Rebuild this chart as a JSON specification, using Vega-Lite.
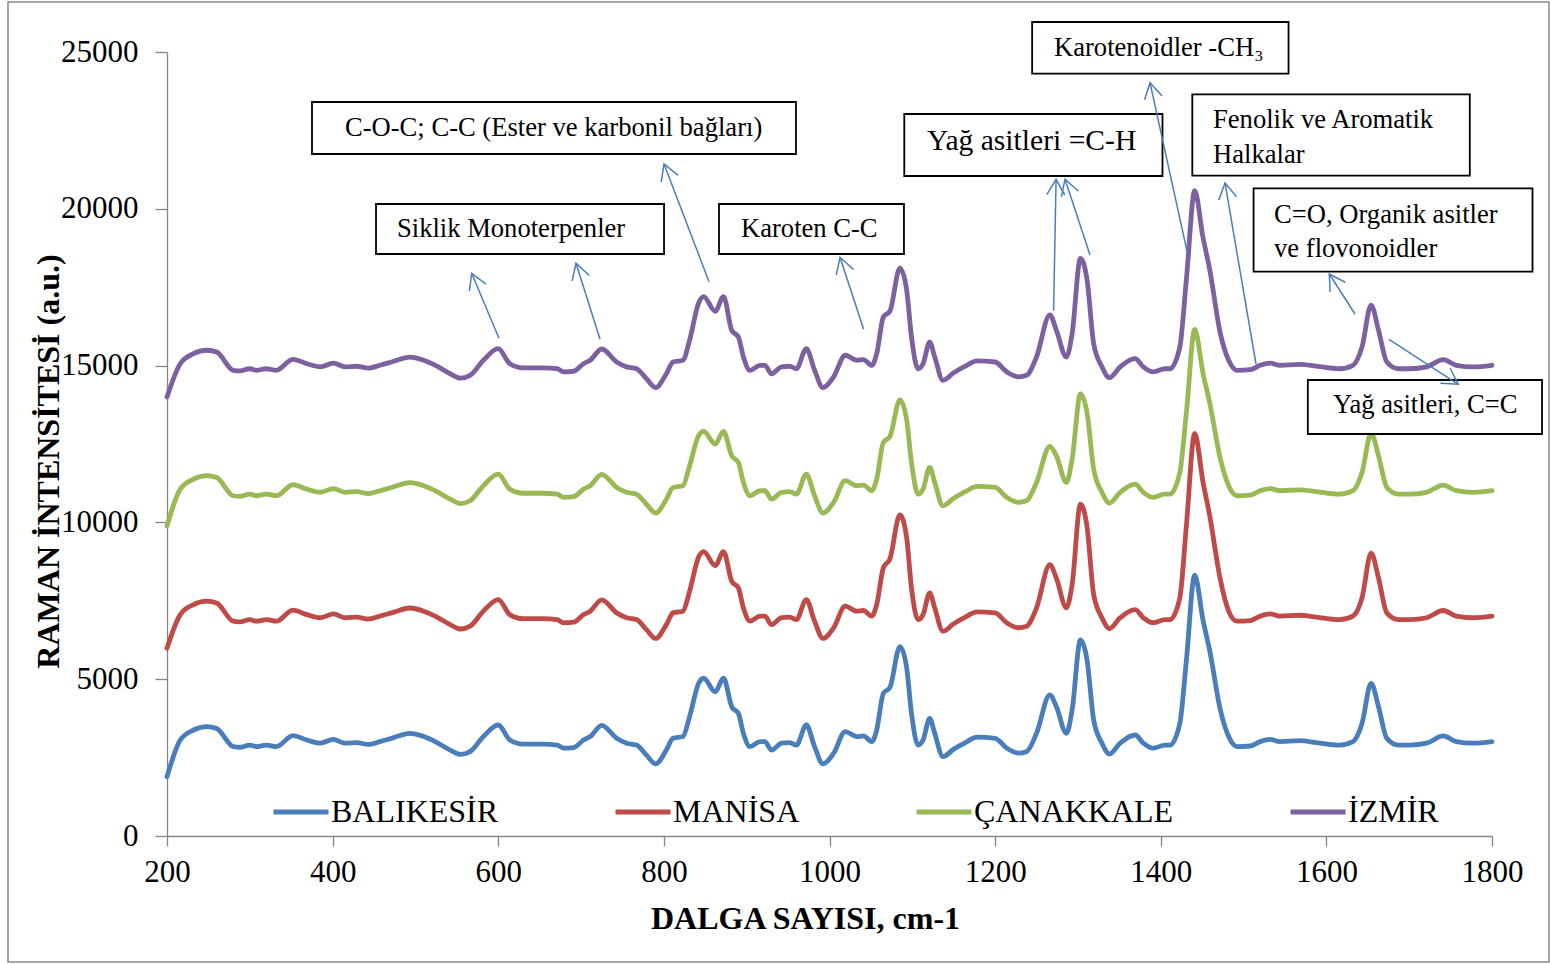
{
  "$schema": "https://vega.github.io/schema/vega-lite/v6.json",
  "width": 1325,
  "height": 784,
  "autosize": {"type": "none"},
  "padding": {"left": 167, "top": 52, "right": 58, "bottom": 128},
  "background": "white",
  "config": {
    "view": {"stroke": null},
    "axis": {
      "grid": false,
      "domainColor": "#868686",
      "domainWidth": 1.3,
      "tickColor": "#868686",
      "tickWidth": 1.3,
      "labelFont": "Liberation Serif",
      "labelFontSize": 31,
      "labelColor": "black",
      "titleFont": "Liberation Serif",
      "titleFontSize": 32,
      "titleFontWeight": "bold",
      "titleColor": "black",
      "labelOverlap": false,
      "labelFlush": false
    },
    "legend": {
      "orient": "none",
      "legendX": 104,
      "legendY": 730,
      "direction": "horizontal",
      "padding": 0,
      "symbolType": "stroke",
      "symbolSize": 3025,
      "symbolStrokeWidth": 5,
      "labelFont": "Liberation Serif",
      "labelFontSize": 32,
      "labelColor": "black",
      "labelLimit": 400,
      "labelOffset": 0,
      "columnPadding": 106
    }
  },
  "datasets": {
    "spectra": [
      {"x":200,"BALIKESİR":1890,"MANİSA":5990,"ÇANAKKALE":9890,"İZMİR":14000},
      {"x":216,"BALIKESİR":3060,"MANİSA":7060,"ÇANAKKALE":11060,"İZMİR":15060},
      {"x":232,"BALIKESİR":3380,"MANİSA":7380,"ÇANAKKALE":11380,"İZMİR":15380},
      {"x":248,"BALIKESİR":3490,"MANİSA":7490,"ÇANAKKALE":11490,"İZMİR":15490},
      {"x":260,"BALIKESİR":3430,"MANİSA":7430,"ÇANAKKALE":11430,"İZMİR":15430},
      {"x":280,"BALIKESİR":2850,"MANİSA":6850,"ÇANAKKALE":10850,"İZMİR":14850},
      {"x":288,"BALIKESİR":2830,"MANİSA":6830,"ÇANAKKALE":10830,"İZMİR":14830},
      {"x":300,"BALIKESİR":2900,"MANİSA":6900,"ÇANAKKALE":10900,"İZMİR":14900},
      {"x":308,"BALIKESİR":2850,"MANİSA":6850,"ÇANAKKALE":10850,"İZMİR":14850},
      {"x":320,"BALIKESİR":2900,"MANİSA":6900,"ÇANAKKALE":10900,"İZMİR":14900},
      {"x":332,"BALIKESİR":2850,"MANİSA":6850,"ÇANAKKALE":10850,"İZMİR":14850},
      {"x":352,"BALIKESİR":3200,"MANİSA":7200,"ÇANAKKALE":11200,"İZMİR":15200},
      {"x":369,"BALIKESİR":3060,"MANİSA":7060,"ÇANAKKALE":11060,"İZMİR":15060},
      {"x":385,"BALIKESİR":2960,"MANİSA":6960,"ÇANAKKALE":10960,"İZMİR":14960},
      {"x":401,"BALIKESİR":3080,"MANİSA":7080,"ÇANAKKALE":11080,"İZMİR":15080},
      {"x":415,"BALIKESİR":2960,"MANİSA":6960,"ÇANAKKALE":10960,"İZMİR":14960},
      {"x":429,"BALIKESİR":2980,"MANİSA":6980,"ÇANAKKALE":10980,"İZMİR":14980},
      {"x":443,"BALIKESİR":2920,"MANİSA":6920,"ÇANAKKALE":10920,"İZMİR":14920},
      {"x":457,"BALIKESİR":3010,"MANİSA":7010,"ÇANAKKALE":11010,"İZMİR":15010},
      {"x":473,"BALIKESİR":3130,"MANİSA":7130,"ÇANAKKALE":11130,"İZMİR":15130},
      {"x":493,"BALIKESİR":3270,"MANİSA":7270,"ÇANAKKALE":11270,"İZMİR":15270},
      {"x":510,"BALIKESİR":3170,"MANİSA":7170,"ÇANAKKALE":11170,"İZMİR":15170},
      {"x":526,"BALIKESİR":2980,"MANİSA":6980,"ÇANAKKALE":10980,"İZMİR":14980},
      {"x":542,"BALIKESİR":2740,"MANİSA":6740,"ÇANAKKALE":10740,"İZMİR":14740},
      {"x":554,"BALIKESİR":2600,"MANİSA":6600,"ÇANAKKALE":10600,"İZMİR":14600},
      {"x":566,"BALIKESİR":2690,"MANİSA":6690,"ÇANAKKALE":10690,"İZMİR":14690},
      {"x":582,"BALIKESİR":3170,"MANİSA":7170,"ÇANAKKALE":11170,"İZMİR":15170},
      {"x":600,"BALIKESİR":3540,"MANİSA":7540,"ÇANAKKALE":11540,"İZMİR":15540},
      {"x":614,"BALIKESİR":3060,"MANİSA":7060,"ÇANAKKALE":11060,"İZMİR":15060},
      {"x":630,"BALIKESİR":2930,"MANİSA":6930,"ÇANAKKALE":10930,"İZMİR":14930},
      {"x":654,"BALIKESİR":2930,"MANİSA":6930,"ÇANAKKALE":10930,"İZMİR":14930},
      {"x":671,"BALIKESİR":2900,"MANİSA":6900,"ÇANAKKALE":10900,"İZMİR":14900},
      {"x":679,"BALIKESİR":2800,"MANİSA":6800,"ÇANAKKALE":10800,"İZMİR":14800},
      {"x":691,"BALIKESİR":2820,"MANİSA":6820,"ÇANAKKALE":10820,"İZMİR":14820},
      {"x":703,"BALIKESİR":3060,"MANİSA":7060,"ÇANAKKALE":11060,"İZMİR":15060},
      {"x":711,"BALIKESİR":3170,"MANİSA":7170,"ÇANAKKALE":11170,"İZMİR":15170},
      {"x":725,"BALIKESİR":3530,"MANİSA":7530,"ÇANAKKALE":11530,"İZMİR":15530},
      {"x":743,"BALIKESİR":3115,"MANİSA":7115,"ÇANAKKALE":11115,"İZMİR":15115},
      {"x":755,"BALIKESİR":2960,"MANİSA":6960,"ÇANAKKALE":10960,"İZMİR":14960},
      {"x":767,"BALIKESİR":2900,"MANİSA":6900,"ÇANAKKALE":10900,"İZMİR":14900},
      {"x":779,"BALIKESİR":2580,"MANİSA":6580,"ÇANAKKALE":10580,"İZMİR":14580},
      {"x":790,"BALIKESİR":2300,"MANİSA":6300,"ÇANAKKALE":10300,"İZMİR":14300},
      {"x":803,"BALIKESİR":2740,"MANİSA":6740,"ÇANAKKALE":10740,"İZMİR":14740},
      {"x":811,"BALIKESİR":3115,"MANİSA":7115,"ÇANAKKALE":11115,"İZMİR":15115},
      {"x":823,"BALIKESİR":3170,"MANİSA":7170,"ÇANAKKALE":11170,"İZMİR":15170},
      {"x":831,"BALIKESİR":3800,"MANİSA":7800,"ÇANAKKALE":11800,"İZMİR":15800},
      {"x":842,"BALIKESİR":4870,"MANİSA":8900,"ÇANAKKALE":12770,"İZMİR":17000},
      {"x":848,"BALIKESİR":5030,"MANİSA":9070,"ÇANAKKALE":12900,"İZMİR":17200},
      {"x":862,"BALIKESİR":4600,"MANİSA":8620,"ÇANAKKALE":12500,"İZMİR":16730},
      {"x":872,"BALIKESİR":5030,"MANİSA":9070,"ÇANAKKALE":12900,"İZMİR":17200},
      {"x":882,"BALIKESİR":4120,"MANİSA":8120,"ÇANAKKALE":12120,"İZMİR":16120},
      {"x":890,"BALIKESİR":3910,"MANİSA":7910,"ÇANAKKALE":11910,"İZMİR":15910},
      {"x":896,"BALIKESİR":3280,"MANİSA":7280,"ÇANAKKALE":11280,"İZMİR":15280},
      {"x":904,"BALIKESİR":2850,"MANİSA":6850,"ÇANAKKALE":10850,"İZMİR":14850},
      {"x":916,"BALIKESİR":3010,"MANİSA":7010,"ÇANAKKALE":11010,"İZMİR":15010},
      {"x":922,"BALIKESİR":3010,"MANİSA":7010,"ÇANAKKALE":11010,"İZMİR":15010},
      {"x":930,"BALIKESİR":2740,"MANİSA":6740,"ÇANAKKALE":10740,"İZMİR":14740},
      {"x":942,"BALIKESİR":2960,"MANİSA":6960,"ÇANAKKALE":10960,"İZMİR":14960},
      {"x":952,"BALIKESİR":2980,"MANİSA":6980,"ÇANAKKALE":10980,"İZMİR":14980},
      {"x":960,"BALIKESİR":2900,"MANİSA":6900,"ÇANAKKALE":10900,"İZMİR":14900},
      {"x":972,"BALIKESİR":3540,"MANİSA":7540,"ÇANAKKALE":11540,"İZMİR":15540},
      {"x":982,"BALIKESİR":2850,"MANİSA":6850,"ÇANAKKALE":10850,"İZMİR":14850},
      {"x":992,"BALIKESİR":2300,"MANİSA":6300,"ÇANAKKALE":10300,"İZMİR":14300},
      {"x":1005,"BALIKESİR":2640,"MANİSA":6640,"ÇANAKKALE":10640,"İZMİR":14640},
      {"x":1019,"BALIKESİR":3330,"MANİSA":7330,"ÇANAKKALE":11330,"İZMİR":15330},
      {"x":1033,"BALIKESİR":3170,"MANİSA":7170,"ÇANAKKALE":11170,"İZMİR":15170},
      {"x":1041,"BALIKESİR":3190,"MANİSA":7190,"ÇANAKKALE":11190,"İZMİR":15190},
      {"x":1051,"BALIKESİR":3010,"MANİSA":7010,"ÇANAKKALE":11010,"İZMİR":15010},
      {"x":1057,"BALIKESİR":3380,"MANİSA":7380,"ÇANAKKALE":11380,"İZMİR":15380},
      {"x":1065,"BALIKESİR":4550,"MANİSA":8550,"ÇANAKKALE":12550,"İZMİR":16550},
      {"x":1073,"BALIKESİR":4740,"MANİSA":8840,"ÇANAKKALE":12740,"İZMİR":16740},
      {"x":1085,"BALIKESİR":6040,"MANİSA":10240,"ÇANAKKALE":13910,"İZMİR":18110},
      {"x":1093,"BALIKESİR":5400,"MANİSA":9550,"ÇANAKKALE":13300,"İZMİR":17450},
      {"x":1099,"BALIKESİR":3910,"MANİSA":7910,"ÇANAKKALE":11910,"İZMİR":15910},
      {"x":1107,"BALIKESİR":2900,"MANİSA":6900,"ÇANAKKALE":10900,"İZMİR":14900},
      {"x":1113,"BALIKESİR":3060,"MANİSA":7060,"ÇANAKKALE":11060,"İZMİR":15060},
      {"x":1121,"BALIKESİR":3750,"MANİSA":7750,"ÇANAKKALE":11750,"İZMİR":15750},
      {"x":1127,"BALIKESİR":3280,"MANİSA":7280,"ÇANAKKALE":11280,"İZMİR":15280},
      {"x":1137,"BALIKESİR":2530,"MANİSA":6530,"ÇANAKKALE":10530,"İZMİR":14530},
      {"x":1150,"BALIKESİR":2770,"MANİSA":6770,"ÇANAKKALE":10770,"İZMİR":14770},
      {"x":1164,"BALIKESİR":2980,"MANİSA":6980,"ÇANAKKALE":10980,"İZMİR":14980},
      {"x":1178,"BALIKESİR":3150,"MANİSA":7150,"ÇANAKKALE":11150,"İZMİR":15150},
      {"x":1200,"BALIKESİR":3115,"MANİSA":7115,"ÇANAKKALE":11115,"İZMİR":15115},
      {"x":1214,"BALIKESİR":2800,"MANİSA":6800,"ÇANAKKALE":10800,"İZMİR":14800},
      {"x":1228,"BALIKESİR":2640,"MANİSA":6640,"ÇANAKKALE":10640,"İZMİR":14640},
      {"x":1238,"BALIKESİR":2690,"MANİSA":6690,"ÇANAKKALE":10690,"İZMİR":14690},
      {"x":1250,"BALIKESİR":3275,"MANİSA":7275,"ÇANAKKALE":11275,"İZMİR":15275},
      {"x":1266,"BALIKESİR":4500,"MANİSA":8650,"ÇANAKKALE":12420,"İZMİR":16620},
      {"x":1274,"BALIKESİR":4120,"MANİSA":8220,"ÇANAKKALE":12120,"İZMİR":16120},
      {"x":1286,"BALIKESİR":3275,"MANİSA":7275,"ÇANAKKALE":11275,"İZMİR":15275},
      {"x":1293,"BALIKESİR":4020,"MANİSA":8020,"ÇANAKKALE":12020,"İZMİR":16020},
      {"x":1303,"BALIKESİR":6250,"MANİSA":10580,"ÇANAKKALE":14095,"İZMİR":18420},
      {"x":1311,"BALIKESİR":5610,"MANİSA":9860,"ÇANAKKALE":13490,"İZMİR":17740},
      {"x":1319,"BALIKESİR":3700,"MANİSA":7700,"ÇANAKKALE":11700,"İZMİR":15700},
      {"x":1329,"BALIKESİR":2960,"MANİSA":6960,"ÇANAKKALE":10960,"İZMİR":14960},
      {"x":1338,"BALIKESİR":2615,"MANİSA":6615,"ÇANAKKALE":10615,"İZMİR":14615},
      {"x":1351,"BALIKESİR":2960,"MANİSA":6960,"ÇANAKKALE":10960,"İZMİR":14960},
      {"x":1369,"BALIKESİR":3220,"MANİSA":7220,"ÇANAKKALE":11220,"İZMİR":15220},
      {"x":1379,"BALIKESİR":2960,"MANİSA":6960,"ÇANAKKALE":10960,"İZMİR":14960},
      {"x":1391,"BALIKESİR":2800,"MANİSA":6800,"ÇANAKKALE":10800,"İZMİR":14800},
      {"x":1405,"BALIKESİR":2900,"MANİSA":6900,"ÇANAKKALE":10900,"İZMİR":14900},
      {"x":1411,"BALIKESİR":2900,"MANİSA":6900,"ÇANAKKALE":10900,"İZMİR":14900},
      {"x":1423,"BALIKESİR":3590,"MANİSA":7590,"ÇANAKKALE":11590,"İZMİR":15590},
      {"x":1431,"BALIKESİR":5610,"MANİSA":9910,"ÇANAKKALE":13510,"İZMİR":17760},
      {"x":1441,"BALIKESİR":8320,"MANİSA":12840,"ÇANAKKALE":16155,"İZMİR":20575},
      {"x":1451,"BALIKESİR":6890,"MANİSA":11290,"ÇANAKKALE":14760,"İZMİR":19090},
      {"x":1459,"BALIKESİR":5930,"MANİSA":10230,"ÇANAKKALE":13830,"İZMİR":18080},
      {"x":1472,"BALIKESİR":4020,"MANİSA":8170,"ÇANAKKALE":12020,"İZMİR":16020},
      {"x":1482,"BALIKESİR":3170,"MANİSA":7170,"ÇANAKKALE":11170,"İZMİR":15170},
      {"x":1492,"BALIKESİR":2850,"MANİSA":6850,"ÇANAKKALE":10850,"İZMİR":14850},
      {"x":1508,"BALIKESİR":2870,"MANİSA":6870,"ÇANAKKALE":10870,"İZMİR":14870},
      {"x":1520,"BALIKESİR":3010,"MANİSA":7010,"ÇANAKKALE":11010,"İZMİR":15010},
      {"x":1532,"BALIKESİR":3080,"MANİSA":7080,"ÇANAKKALE":11080,"İZMİR":15080},
      {"x":1544,"BALIKESİR":3010,"MANİSA":7010,"ÇANAKKALE":11010,"İZMİR":15010},
      {"x":1568,"BALIKESİR":3040,"MANİSA":7040,"ÇANAKKALE":11040,"İZMİR":15040},
      {"x":1588,"BALIKESİR":2980,"MANİSA":6980,"ÇANAKKALE":10980,"İZMİR":14980},
      {"x":1616,"BALIKESİR":2900,"MANİSA":6900,"ÇANAKKALE":10900,"İZMİR":14900},
      {"x":1632,"BALIKESİR":3010,"MANİSA":7010,"ÇANAKKALE":11010,"İZMİR":15010},
      {"x":1643,"BALIKESİR":3590,"MANİSA":7590,"ÇANAKKALE":11590,"İZMİR":15590},
      {"x":1654,"BALIKESİR":4870,"MANİSA":9020,"ÇANAKKALE":12840,"İZMİR":16930},
      {"x":1663,"BALIKESİR":4120,"MANİSA":8220,"ÇANAKKALE":12120,"İZMİR":16120},
      {"x":1673,"BALIKESİR":3115,"MANİSA":7115,"ÇANAKKALE":11115,"İZMİR":15115},
      {"x":1687,"BALIKESİR":2900,"MANİSA":6900,"ÇANAKKALE":10900,"İZMİR":14900},
      {"x":1701,"BALIKESİR":2900,"MANİSA":6900,"ÇANAKKALE":10900,"İZMİR":14900},
      {"x":1721,"BALIKESİR":2960,"MANİSA":6960,"ÇANAKKALE":10960,"İZMİR":14960},
      {"x":1741,"BALIKESİR":3190,"MANİSA":7190,"ÇANAKKALE":11190,"İZMİR":15190},
      {"x":1757,"BALIKESİR":3010,"MANİSA":7010,"ÇANAKKALE":11010,"İZMİR":15010},
      {"x":1777,"BALIKESİR":2960,"MANİSA":6960,"ÇANAKKALE":10960,"İZMİR":14960},
      {"x":1800,"BALIKESİR":3010,"MANİSA":7010,"ÇANAKKALE":11010,"İZMİR":15010}
    ],
    "frame": [
      {"x": 8, "x2": 1868.8, "y": 26594, "y2": -4018}
    ],
    "boxes": [
      {"x": 375.1, "x2": 959.5, "y": 23406, "y2": 21748},
      {"x": 452.4, "x2": 800.2, "y": 20153, "y2": 18559},
      {"x": 866.6, "x2": 1089.9, "y": 20153, "y2": 18559},
      {"x": 1090.3, "x2": 1402.1, "y": 23023, "y2": 21046},
      {"x": 1244.7, "x2": 1554.3, "y": 25957, "y2": 24308},
      {"x": 1438.1, "x2": 1773.2, "y": 23651, "y2": 21056},
      {"x": 1512.1, "x2": 1848.9, "y": 20654, "y2": 17995},
      {"x": 1577.6, "x2": 1860.4, "y": 14541, "y2": 12819}
    ],
    "labels": [
      {"x": 414.9, "y": 22570, "text": "C-O-C; C-C (Ester ve karbonil bağları)"},
      {"x": 477.7, "y": 19360, "text": "Siklik Monoterpenler"},
      {"x": 893.1, "y": 19340, "text": "Karoten C-C"},
      {"x": 1271.1, "y": 25119, "text": "Karotenoidler -CH₃"},
      {"x": 1463.1, "y": 22832, "text": "Fenolik ve Aromatik"},
      {"x": 1463.1, "y": 21706, "text": "Halkalar"},
      {"x": 1536.8, "y": 19812, "text": "C=O, Organik asitler"},
      {"x": 1536.8, "y": 18718, "text": "ve flovonoidler"},
      {"x": 1608.0, "y": 13728, "text": "Yağ asitleri, C=C"}
    ],
    "biglabels": [
      {"x": 1117.7, "y": 22168, "text": "Yağ asitleri =C-H"}
    ],
    "arrows": [
      {"x": 600.9, "y": 15871, "x2": 567.9, "y2": 17943, "a": -22.8},
      {"x": 722.9, "y": 15839, "x2": 693.9, "y2": 18262, "a": -17.5},
      {"x": 854.5, "y": 17676, "x2": 800.2, "y2": 21429, "a": -20.9},
      {"x": 1041.2, "y": 16157, "x2": 1012.7, "y2": 18453, "a": -18.1},
      {"x": 1270.6, "y": 16751, "x2": 1273.6, "y2": 20941, "a": 1.1},
      {"x": 1314.6, "y": 18527, "x2": 1284.4, "y2": 20941, "a": -18.3},
      {"x": 1432.3, "y": 18581, "x2": 1387.0, "y2": 24022, "a": -12.4},
      {"x": 1515.0, "y": 15051, "x2": 1477.6, "y2": 20823, "a": -9.7},
      {"x": 1634.6, "y": 16646, "x2": 1603.5, "y2": 17921, "a": -32.7},
      {"x": 1675.6, "y": 15839, "x2": 1759.3, "y2": 14404, "a": 123.0}
    ]
  },
  "encoding": {
    "x": {
      "field": "x",
      "type": "quantitative",
      "scale": {"domain": [200, 1800], "nice": false, "zero": false},
      "axis": {
        "values": [200, 400, 600, 800, 1000, 1200, 1400, 1600, 1800],
        "format": "d",
        "title": "DALGA SAYISI, cm-1",
        "tickSize": 10,
        "labelPadding": 11,
        "titleX": 638,
        "titleY": 82,
        "titleAlign": "center",
        "titleBaseline": "middle"
      }
    },
    "y": {
      "field": "y",
      "type": "quantitative",
      "scale": {"domain": [0, 25000], "nice": false},
      "axis": {
        "values": [0, 5000, 10000, 15000, 20000, 25000],
        "format": "d",
        "title": "RAMAN İNTENSİTESİ (a.u.)",
        "tickSize": 12,
        "labelPadding": 17,
        "titleX": -119,
        "titleY": 409,
        "titleAngle": -90,
        "titleAlign": "center",
        "titleBaseline": "middle"
      }
    }
  },
  "layer": [
    {
      "data": {"name": "frame"},
      "mark": {"type": "rect", "filled": false, "stroke": "#898989", "strokeWidth": 1.5},
      "encoding": {
        "x2": {"field": "x2"},
        "y2": {"field": "y2"}
      }
    },
    {
      "data": {"name": "spectra"},
      "transform": [
        {"fold": ["BALIKESİR", "MANİSA", "ÇANAKKALE", "İZMİR"], "as": ["s", "y"]}
      ],
      "mark": {"type": "line", "interpolate": "monotone", "strokeWidth": 4.8, "strokeCap": "round", "strokeJoin": "round"},
      "encoding": {
        "color": {
          "field": "s",
          "type": "nominal",
          "scale": {
            "domain": ["BALIKESİR", "MANİSA", "ÇANAKKALE", "İZMİR"],
            "range": ["#4A7EBB", "#BE4B48", "#98B954", "#7D60A0"]
          },
          "legend": {"title": null}
        }
      }
    },
    {
      "data": {"name": "boxes"},
      "mark": {"type": "rect", "fill": "white", "stroke": "black", "strokeWidth": 1.8},
      "encoding": {
        "x2": {"field": "x2"},
        "y2": {"field": "y2"}
      }
    },
    {
      "data": {"name": "labels"},
      "mark": {"type": "text", "font": "Liberation Serif", "fontSize": 26.6, "color": "black", "align": "left", "baseline": "middle"},
      "encoding": {
        "text": {"field": "text", "type": "nominal"}
      }
    },
    {
      "data": {"name": "biglabels"},
      "mark": {"type": "text", "font": "Liberation Serif", "fontSize": 29.6, "color": "black", "align": "left", "baseline": "middle"},
      "encoding": {
        "text": {"field": "text", "type": "nominal"}
      }
    },
    {
      "data": {"name": "arrows"},
      "mark": {"type": "rule", "color": "#4A7EBB", "strokeWidth": 1.5},
      "encoding": {
        "x2": {"field": "x2"},
        "y2": {"field": "y2"}
      }
    },
    {
      "data": {"name": "arrows"},
      "mark": {"type": "point", "shape": "M-0.5,0.866L0,0L0.5,0.866", "filled": false, "size": 1296, "color": "#4A7EBB", "strokeWidth": 1.5, "opacity": 1},
      "encoding": {
        "x": {"field": "x2", "type": "quantitative"},
        "y": {"field": "y2", "type": "quantitative"},
        "angle": {"field": "a", "type": "quantitative", "scale": null}
      }
    }
  ]
}
